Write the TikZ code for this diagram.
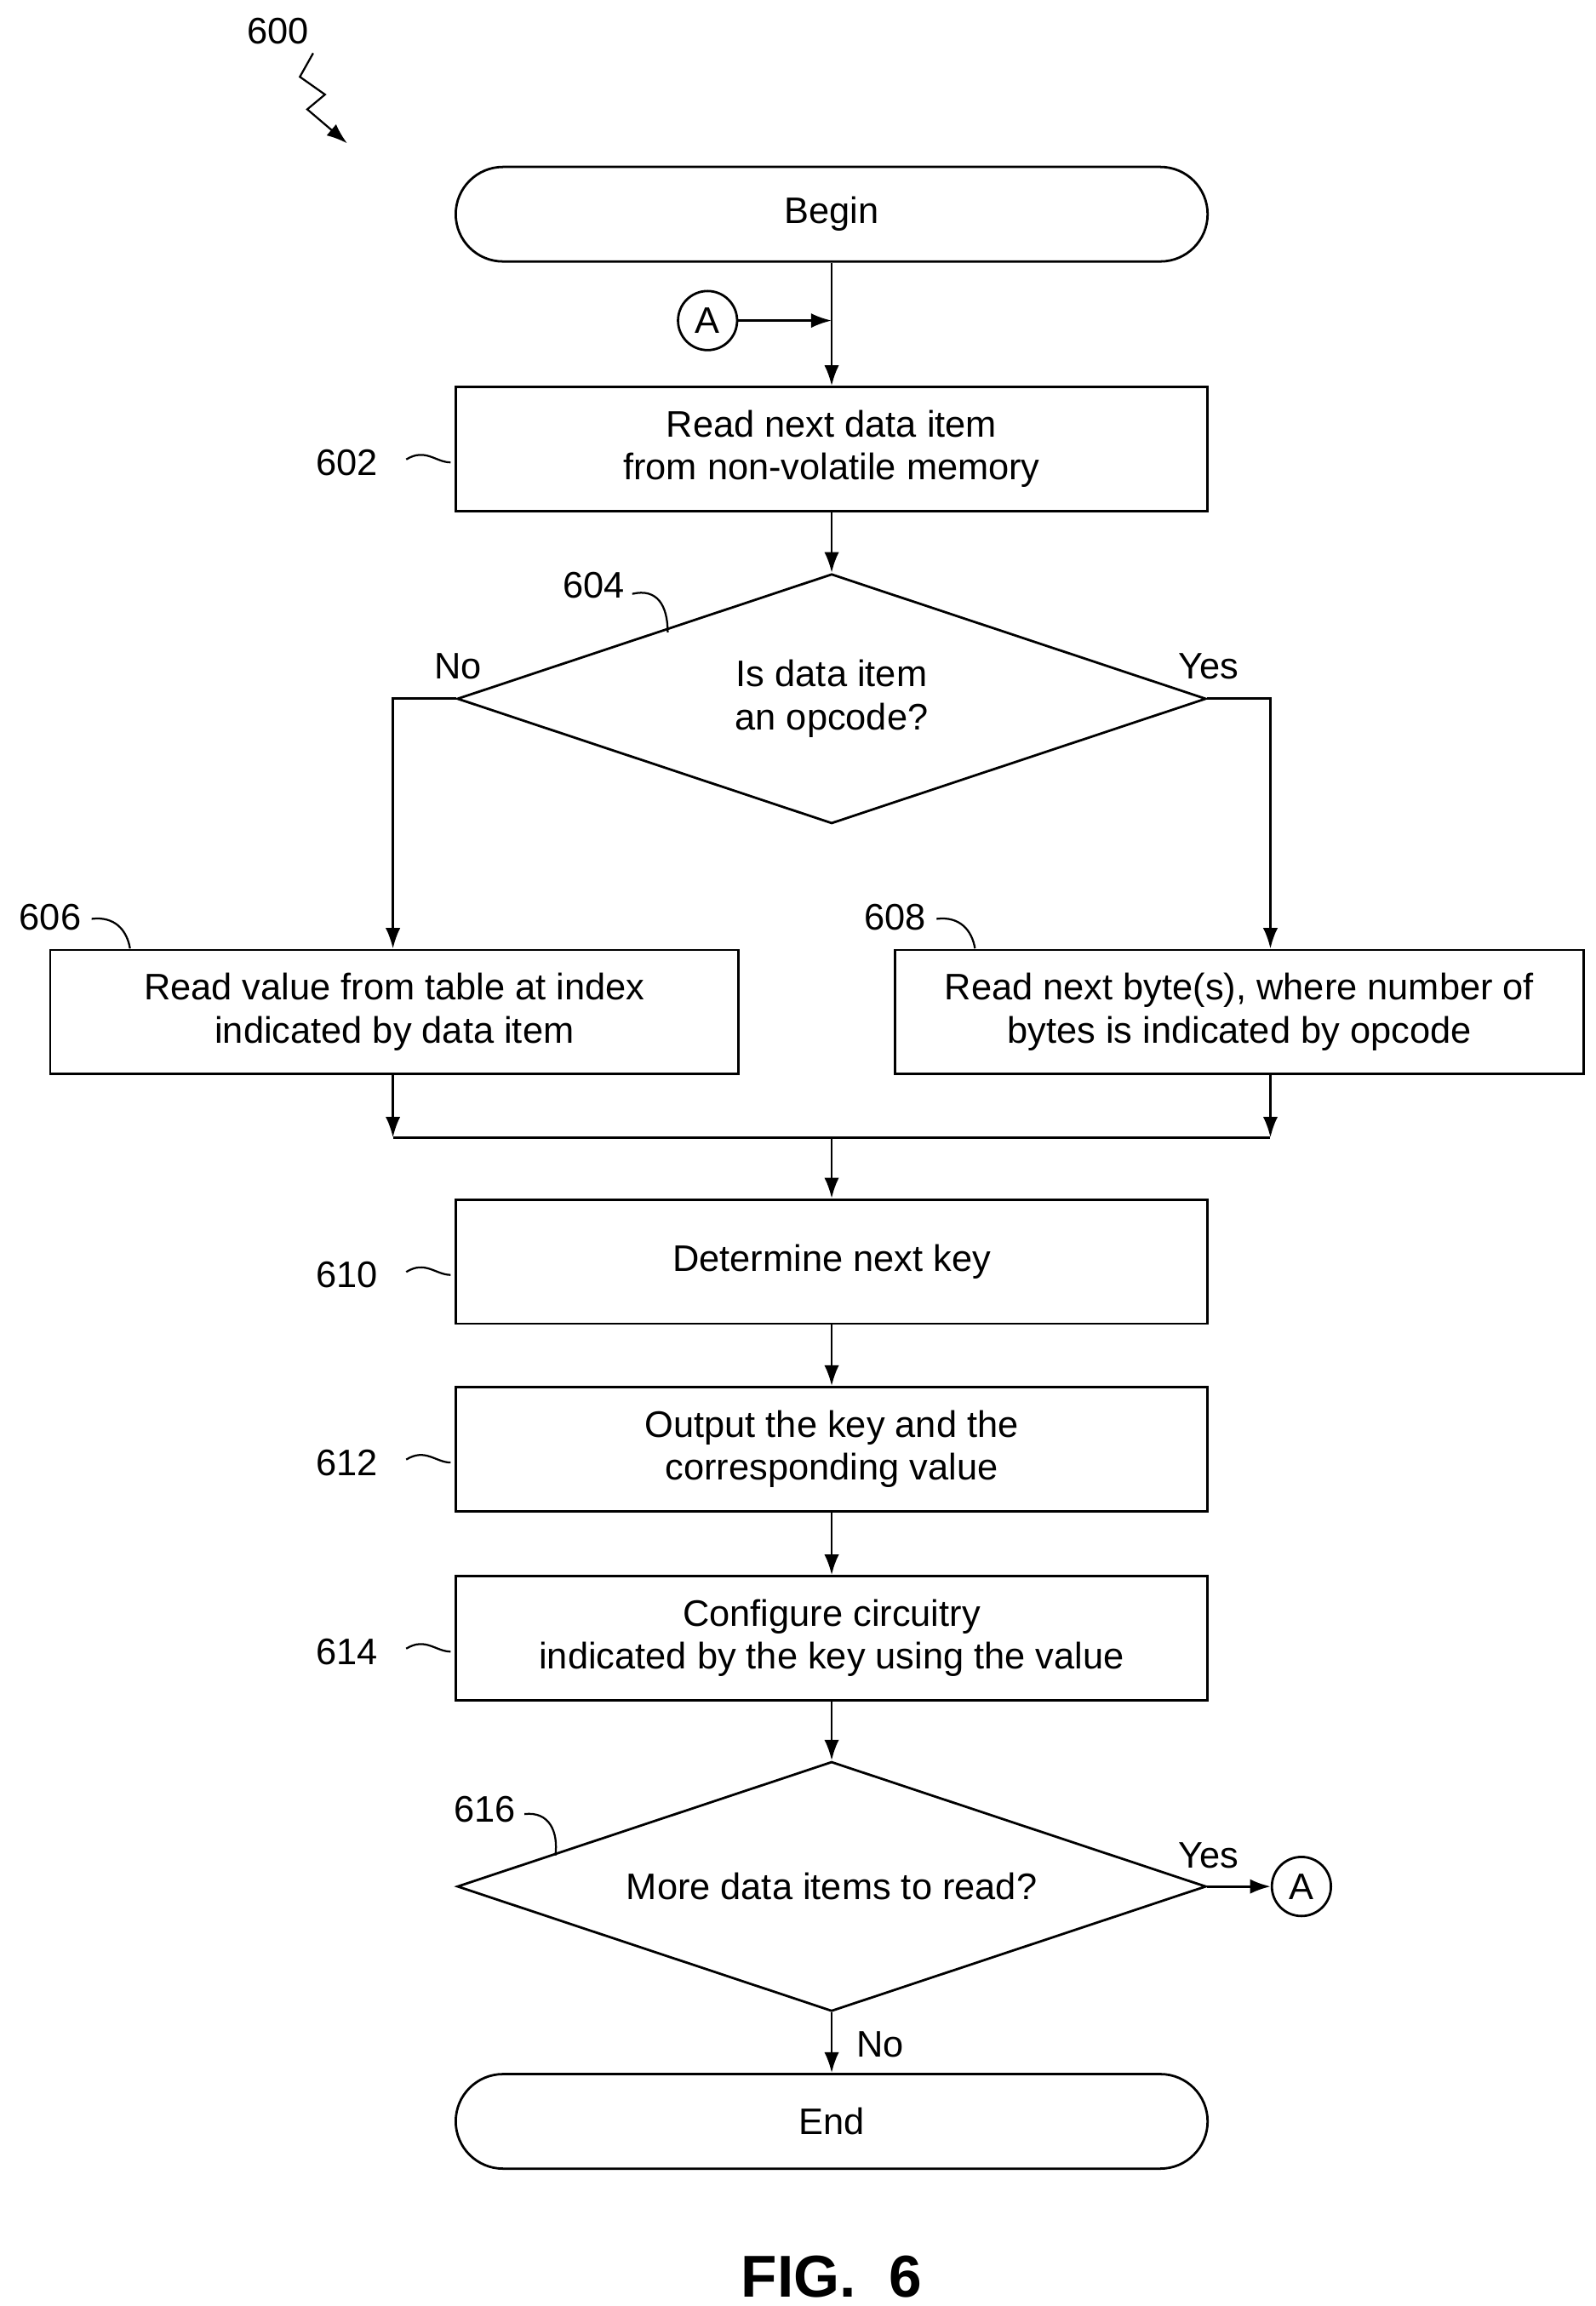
\documentclass[tikz,border=0pt]{standalone}
\usepackage{fontspec}
\setmainfont{Liberation Sans}
\usetikzlibrary{shapes.geometric,arrows.meta}
\begin{document}
\begin{tikzpicture}[x=1pt,y=-1pt,
  font=\fontsize{25}{29}\selectfont,
  line width=1.6pt,
  box/.style={draw,rectangle,minimum width=509pt,minimum height=84pt,align=center,inner sep=2pt},
  wbox/.style={draw,rectangle,minimum width=466pt,minimum height=84pt,align=center,inner sep=2pt},
  term/.style={draw,rounded corners=32pt,minimum width=509pt,minimum height=64pt},
  dec/.style={draw,diamond,minimum width=507pt,minimum height=169pt,aspect=3,align=center,inner sep=0pt},
  conn/.style={draw,circle,minimum size=40pt,inner sep=0pt},
  arr/.style={-{Latex[length=14pt,width=10pt]}},
  lead/.style={line width=1.3pt}]
\useasboundingbox (0,0) rectangle (1080,1561);
\node[term] (begin) at (563,145) {Begin};
\node[conn] (a1) at (479,217) {A};
\coordinate (j1) at (563,217);
\node[box] (b602) at (563,304) {Read next data item\\from non-volatile memory};
\node[dec] (d604) at (563,473) {Is data item\\an opcode?};
\node[wbox] (b606) at (267,685) {Read value from table at index\\indicated by data item};
\node[wbox] (b608) at (839,685) {Read next byte(s), where number of\\bytes is indicated by opcode};
\coordinate (nl) at (266,473);
\coordinate (yr) at (860,473);
\coordinate (ml) at (266,770);
\coordinate (mr) at (860,770);
\coordinate (mc) at (563,770);
\node[box] (b610) at (563,854) {Determine next key};
\node[box] (b612) at (563,981) {Output the key and the\\corresponding value};
\node[box] (b614) at (563,1109) {Configure circuitry\\indicated by the key using the value};
\node[dec] (d616) at (563,1277) {More data items to read?};
\node[conn] (a2) at (881,1277) {A};
\node[term] (end) at (563,1436) {End};

\draw[arr] (begin.south) -- (b602.north);
\draw[arr] (a1.east) -- (j1);
\draw[arr] (b602.south) -- (d604.north);
\draw[arr] (d604.west) -- (nl) -- (b606.north -| nl);
\draw[arr] (d604.east) -- (yr) -- (b608.north -| yr);
\draw[arr] (b606.south -| ml) -- (ml);
\draw[arr] (b608.south -| mr) -- (mr);
\draw (ml) -- (mr);
\draw[arr] (mc) -- (b610.north);
\draw[arr] (b610.south) -- (b612.north);
\draw[arr] (b612.south) -- (b614.north);
\draw[arr] (b614.south) -- (d616.north);
\draw[arr] (d616.east) -- (a2.west);
\draw[arr] (d616.south) -- (end.north);

\node at (310,451) {No};
\node at (818,451) {Yes};
\node at (818,1256) {Yes};
\node at (596,1384) {No};

\node (l602) at (235,313) {602};
\draw[lead] (275,311) .. controls (288,303) and (295,313) .. (305,313);
\node (l610) at (235,863) {610};
\draw[lead] (275,861) .. controls (288,853) and (295,863) .. (305,863);
\node (l612) at (235,990) {612};
\draw[lead] (275,988) .. controls (288,980) and (295,990) .. (305,990);
\node (l614) at (235,1118) {614};
\draw[lead] (275,1116) .. controls (288,1108) and (295,1118) .. (305,1118);
\node (l604) at (402,396) {604};
\draw[lead] (428,402) .. controls (445,398) and (452,410) .. (452,428);
\node (l606) at (34,621) {606};
\draw[lead] (62,622) .. controls (78,620) and (86,630) .. (88,642);
\node (l608) at (606,621) {608};
\draw[lead] (634,622) .. controls (650,620) and (658,630) .. (660,642);
\node (l616) at (328,1225) {616};
\draw[lead] (355,1228) .. controls (372,1226) and (378,1240) .. (376,1256);
\node (l600) at (188,21) {600};
\draw[lead,arr] (212,36) -- (203,52) -- (220,64) -- (208,74) -- (235,97);
\node[font=\fontsize{40}{44}\selectfont\bfseries] (fig) at (563,1541) {FIG.\ \ 6};
\end{tikzpicture}
\end{document}
